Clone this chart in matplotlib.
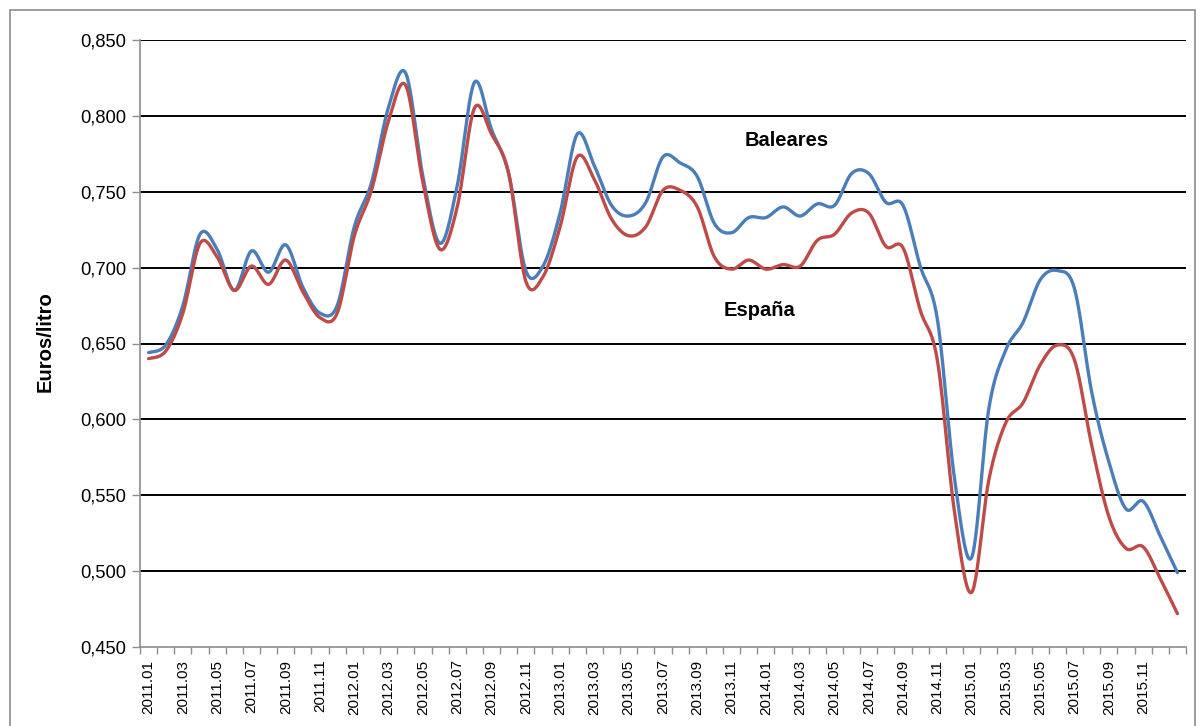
import numpy as np
import matplotlib.pyplot as plt
from matplotlib.patches import Rectangle

# monthly data 2011.01 - 2016.01
months = [f"{y}.{m:02d}" for y in range(2011, 2016) for m in range(1, 13)] + ["2016.01"]

baleares = [0.644, 0.649, 0.675, 0.722, 0.712, 0.685, 0.711, 0.697, 0.715, 0.687,
            0.670, 0.675, 0.727, 0.756, 0.806, 0.828, 0.760, 0.716, 0.754, 0.822,
            0.791, 0.762, 0.698, 0.701, 0.736, 0.788, 0.767, 0.741, 0.734, 0.743,
            0.773, 0.769, 0.760, 0.729, 0.723, 0.733, 0.733, 0.740, 0.734, 0.742,
            0.741, 0.762, 0.762, 0.743, 0.741, 0.701, 0.666, 0.561, 0.509, 0.607,
            0.646, 0.664, 0.692, 0.698, 0.686, 0.618, 0.572, 0.541, 0.546, 0.523,
            0.499]
espana = [0.640, 0.645, 0.670, 0.716, 0.707, 0.685, 0.701, 0.689, 0.705, 0.684,
          0.667, 0.670, 0.721, 0.751, 0.797, 0.820, 0.756, 0.712, 0.740, 0.805,
          0.788, 0.762, 0.691, 0.694, 0.727, 0.773, 0.758, 0.732, 0.721, 0.727,
          0.751, 0.751, 0.740, 0.707, 0.699, 0.705, 0.699, 0.702, 0.701, 0.718,
          0.722, 0.736, 0.736, 0.714, 0.713, 0.672, 0.639, 0.539, 0.486, 0.560,
          0.598, 0.611, 0.636, 0.649, 0.639, 0.583, 0.536, 0.515, 0.516, 0.495,
          0.472]

yticks = [0.45, 0.50, 0.55, 0.60, 0.65, 0.70, 0.75, 0.80, 0.85]


def smooth(vals, n=24):
    # bezier smoothing like the spreadsheet "smoothed line"
    pts = np.column_stack([np.arange(len(vals)), vals]).astype(float)
    P = np.vstack([pts[0], pts, pts[-1]])
    t = np.linspace(0, 1, n, endpoint=False)[:, None]
    out = []
    for i in range(len(pts) - 1):
        p0, p1, p2, p3 = P[i], P[i + 1], P[i + 2], P[i + 3]
        c1 = p1 + (p2 - p0) / 6
        c2 = p2 - (p3 - p1) / 6
        out.append((1 - t) ** 3 * p1 + 3 * (1 - t) ** 2 * t * c1
                   + 3 * (1 - t) * t ** 2 * c2 + t ** 3 * p2)
    out.append(pts[-1:])
    s = np.vstack(out)
    return s[:, 0], s[:, 1]


plt.rcParams['font.family'] = ['Liberation Sans', 'DejaVu Sans']

W, H = 1202, 726
fig = plt.figure(figsize=(W / 100, H / 100), dpi=100)
fig.patches.append(Rectangle((10 / W, -0.05), 1185 / W, 1.05 - 10 / H,
                             transform=fig.transFigure, fill=False,
                             edgecolor='#8c8c8c', linewidth=1.2))

ax = fig.add_axes([140 / W, 1 - 647 / H, 1046 / W, 607 / H])

for yv in yticks[1:]:
    ax.axhline(yv, color='black', linewidth=1.4, zorder=1)

xs, ys = smooth(baleares)
ax.plot(xs, ys, color='#4A7EBB', linewidth=2.4, zorder=3, solid_capstyle='round')
xs, ys = smooth(espana)
ax.plot(xs, ys, color='#BE4B48', linewidth=2.4, zorder=3, solid_capstyle='round')

ax.set_xlim(-0.5, len(months) - 0.5)
ax.set_ylim(0.45, 0.85)

ax.set_yticks(yticks)
ax.set_yticklabels([f"{v:.3f}".replace('.', ',') for v in yticks], fontsize=13.2)
ax.tick_params(axis='y', direction='out', length=6, width=1, color='#8c8c8c', pad=4)

lab_idx = list(range(0, 60, 2))
ax.set_xticks(lab_idx)
ax.set_xticklabels([months[i] for i in lab_idx], rotation=90, fontsize=11)
ax.set_xticks(np.arange(-0.5, len(months), 1), minor=True)
ax.tick_params(axis='x', which='major', length=0, pad=9)
ax.tick_params(axis='x', which='minor', direction='out', length=5, width=1, color='#8c8c8c')

for s in ['top', 'right']:
    ax.spines[s].set_visible(False)
for s in ['left', 'bottom']:
    ax.spines[s].set_color('#8c8c8c')
    ax.spines[s].set_linewidth(1.2)

fig.text(45 / W, 1 - 342 / H, 'Euros/litro', rotation=90, fontsize=14.6,
         fontweight='bold', ha='center', va='center')
ax.text(37.2, 0.784, 'Baleares', fontsize=14.5, fontweight='bold', ha='center', va='center')
ax.text(35.6, 0.672, 'España', fontsize=14.5, fontweight='bold', ha='center', va='center')

fig.savefig('out.png', dpi=100)
